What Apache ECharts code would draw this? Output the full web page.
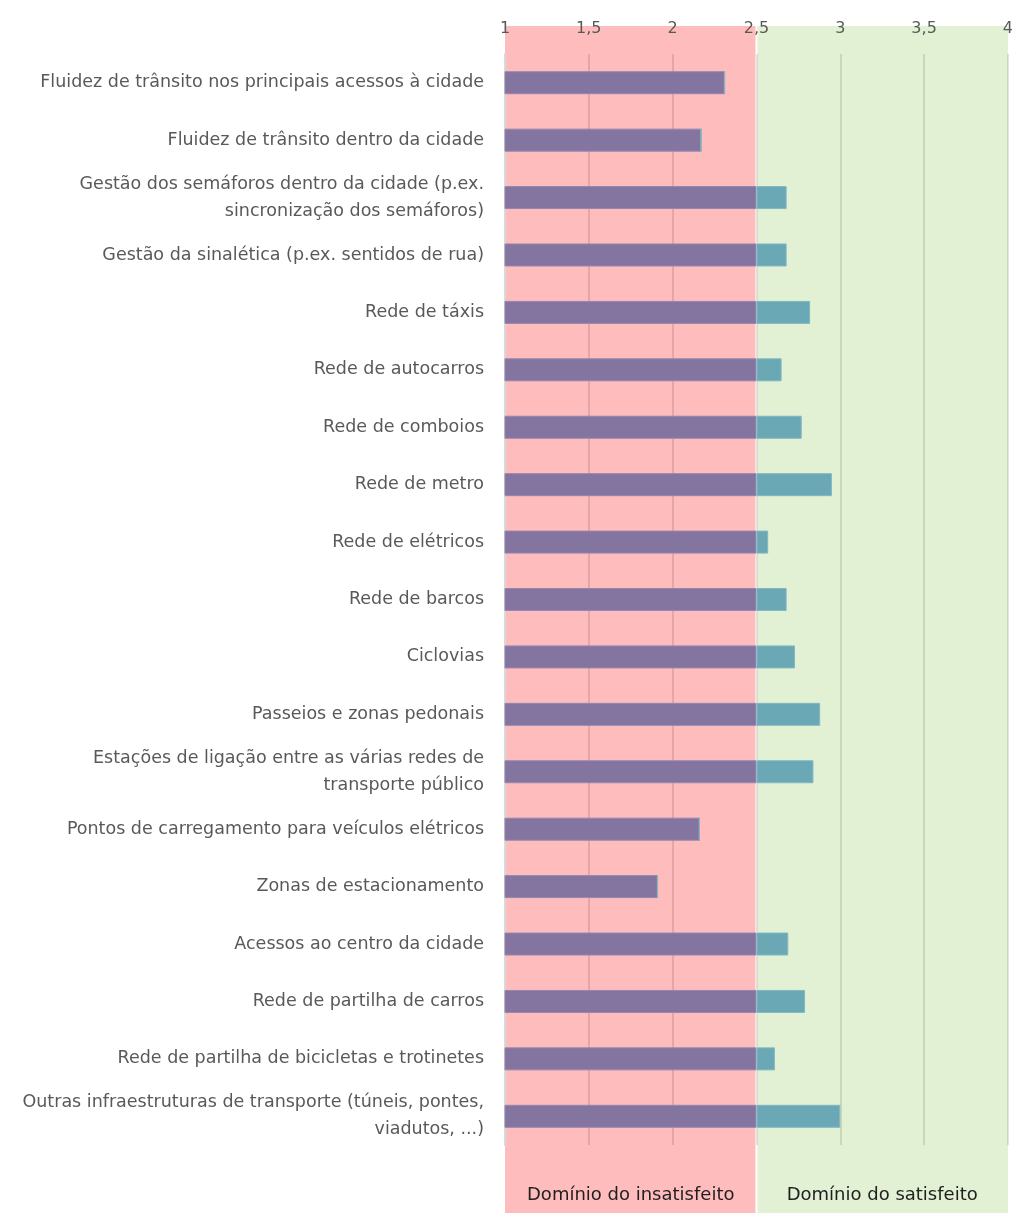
<!DOCTYPE html>
<html>
<head>
<meta charset="utf-8">
<script src="https://cdn.jsdelivr.net/npm/echarts@6/dist/echarts.min.js"></script>
<style>
  html, body { margin: 0; padding: 0; background: #ffffff; }
  #chart { width: 1016px; height: 1213px; }
</style>
</head>
<body>
<div id="chart"></div>
<script>
// Average satisfaction score (1 = very dissatisfied, 4 = very satisfied)
const categories = [
  'Fluidez de trânsito nos principais acessos à cidade',
  'Fluidez de trânsito dentro da cidade',
  'Gestão dos semáforos dentro da cidade (p.ex.\nsincronização dos semáforos)',
  'Gestão da sinalética (p.ex. sentidos de rua)',
  'Rede de táxis',
  'Rede de autocarros',
  'Rede de comboios',
  'Rede de metro',
  'Rede de elétricos',
  'Rede de barcos',
  'Ciclovias',
  'Passeios e zonas pedonais',
  'Estações de ligação entre as várias redes de\ntransporte público',
  'Pontos de carregamento para veículos elétricos',
  'Zonas de estacionamento',
  'Acessos ao centro da cidade',
  'Rede de partilha de carros',
  'Rede de partilha de bicicletas e trotinetes',
  'Outras infraestruturas de transporte (túneis, pontes,\nviadutos, ...)'
];
const scores = [2.31, 2.17, 2.68, 2.68, 2.82, 2.65, 2.77, 2.95, 2.57, 2.68,
                2.73, 2.88, 2.84, 2.16, 1.91, 2.69, 2.79, 2.61, 3.00];

const scaleMin = 1;
const scaleMax = 4;
const scaleStep = 0.5;
const threshold = 2.5;
const zoneLabels = ['Domínio do insatisfeito', 'Domínio do satisfeito'];

// Split each score into the part below and the part above the threshold
const belowPart = scores.map(v => Math.min(v, threshold));
const abovePart = scores.map(v => Math.max(v - threshold, 0));

const FONT = '"DejaVu Sans", "Noto Sans", sans-serif';

const chart = echarts.init(document.getElementById('chart'), null, { renderer: 'canvas' });

const option = {
  animation: false,
  grid: { left: 505, right: 7, top: 54, bottom: 68, containLabel: false },
  xAxis: {
    type: 'value',
    position: 'top',
    min: scaleMin,
    max: scaleMax,
    interval: scaleStep,
    axisLine: { show: false },
    axisTick: { show: false },
    axisLabel: {
      margin: 17,
      color: '#595959',
      fontFamily: FONT,
      fontSize: 16,
      formatter: v => String(v).replace('.', ',')
    },
    splitLine: { show: true, lineStyle: { color: 'rgba(0,0,0,0.11)', width: 2 } }
  },
  yAxis: {
    type: 'category',
    inverse: true,
    data: categories,
    axisLine: { show: true, lineStyle: { color: '#d9d9d9', width: 2 } },
    axisTick: { show: false },
    axisLabel: {
      margin: 21,
      color: '#595959',
      fontFamily: FONT,
      fontSize: 17.5,
      lineHeight: 27,
      align: 'right'
    }
  },
  series: [
    {
      name: 'Insatisfeito',
      type: 'bar',
      stack: 'score',
      barWidth: 23,
      data: belowPart,
      itemStyle: { color: '#8374a0', borderColor: '#9587b0', borderWidth: 1 }
    },
    {
      name: 'Satisfeito',
      type: 'bar',
      stack: 'score',
      barWidth: 23,
      data: abovePart,
      itemStyle: { color: '#6aa8b5', borderColor: '#82b8c3', borderWidth: 1 }
    }
  ]
};

chart.setOption(option);

// Background zones and their captions, positioned through the value axis
const px = v => chart.convertToPixel({ xAxisIndex: 0 }, v);
const xMin = px(scaleMin);
const xMid = px(threshold);
const xMax = px(scaleMax);
const H = chart.getHeight();
const zoneTop = 26;

chart.setOption({
  graphic: [
    {
      type: 'rect', z: -10, silent: true,
      shape: { x: xMin, y: zoneTop, width: xMid - 1 - xMin, height: H - zoneTop },
      style: { fill: '#ffbcbc' }
    },
    {
      type: 'rect', z: -10, silent: true,
      shape: { x: xMid + 1, y: zoneTop, width: xMax - xMid - 1, height: H - zoneTop },
      style: { fill: '#e2f0d4' }
    },
    {
      type: 'text', z: 5, silent: true,
      x: (xMin + xMid) / 2, y: 1195,
      style: {
        text: zoneLabels[0], fill: '#1f1f1f', font: '18px ' + FONT,
        align: 'center', verticalAlign: 'middle'
      }
    },
    {
      type: 'text', z: 5, silent: true,
      x: (xMid + xMax) / 2, y: 1195,
      style: {
        text: zoneLabels[1], fill: '#1f1f1f', font: '18px ' + FONT,
        align: 'center', verticalAlign: 'middle'
      }
    }
  ]
});
</script>
</body>
</html>
